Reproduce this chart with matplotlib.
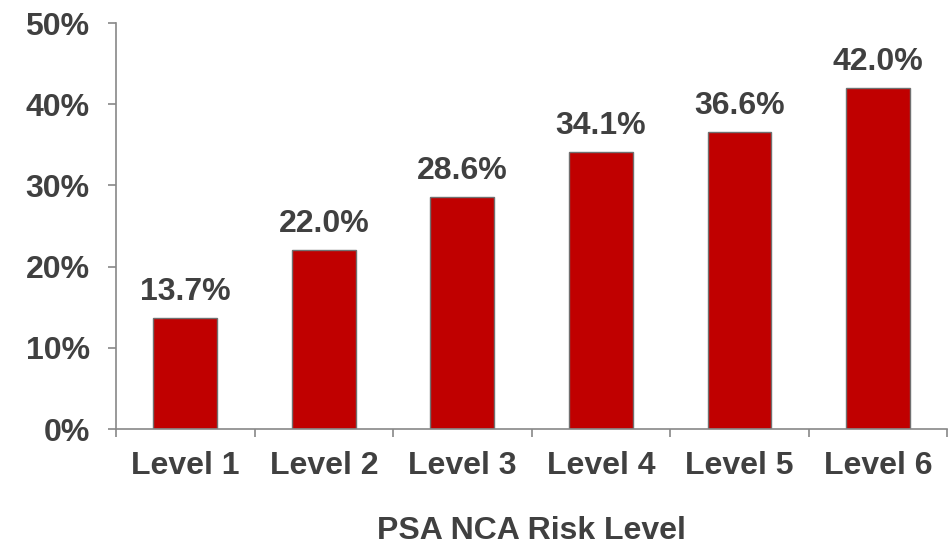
import matplotlib
matplotlib.use("Agg")
import matplotlib.pyplot as plt
import numpy as np

levels = ["Level 1", "Level 2", "Level 3", "Level 4", "Level 5", "Level 6"]
rates = [13.7, 22.0, 28.6, 34.1, 36.6, 42.0]
yticks = [0, 10, 20, 30, 40, 50]

TEXT = "#404040"
SPINE = "#888888"
FS = 23

plt.rcParams["font.family"] = ["Liberation Sans", "DejaVu Sans"]
plt.rcParams["font.weight"] = "bold"

fig = plt.figure(figsize=(9.51, 5.48), dpi=100)
ax = fig.add_axes([0.122, 0.217, 0.874, 0.741])

x = np.arange(len(levels))
ax.bar(x, rates, width=0.46, color="#C00000", edgecolor="#707070", linewidth=1.0, zorder=2)

for xi, v in zip(x, rates):
    ax.annotate(f"{v:.1f}%", (xi, v), xytext=(0, 8), textcoords="offset points",
                ha="center", va="bottom", fontsize=FS, fontweight="bold", color=TEXT)

ax.set_xlim(-0.5, len(levels) - 0.5)
ax.set_ylim(0, 50)
ax.set_yticks(yticks)
ax.set_yticklabels([f"{t}%" for t in yticks])

# category labels centred, tick marks on the boundaries
ax.set_xticks(np.arange(-0.5, len(levels) + 0.5, 1.0))
ax.set_xticklabels([])
ax.set_xticks(x, minor=True)
ax.set_xticklabels(levels, minor=True)
ax.tick_params(axis="both", which="both", labelsize=FS, labelcolor=TEXT)
ax.tick_params(axis="x", which="minor", length=0, pad=16)
ax.tick_params(axis="x", which="major", length=6, width=1.2, color=SPINE)
ax.tick_params(axis="y", length=6, width=1.2, color=SPINE, pad=13)

for s in ["top", "right"]:
    ax.spines[s].set_visible(False)
for s in ["left", "bottom"]:
    ax.spines[s].set_color(SPINE)
    ax.spines[s].set_linewidth(1.2)

ax.set_xlabel("PSA NCA Risk Level", fontsize=FS, fontweight="bold", color=TEXT, labelpad=25)

fig.savefig("out.png", dpi=100)
